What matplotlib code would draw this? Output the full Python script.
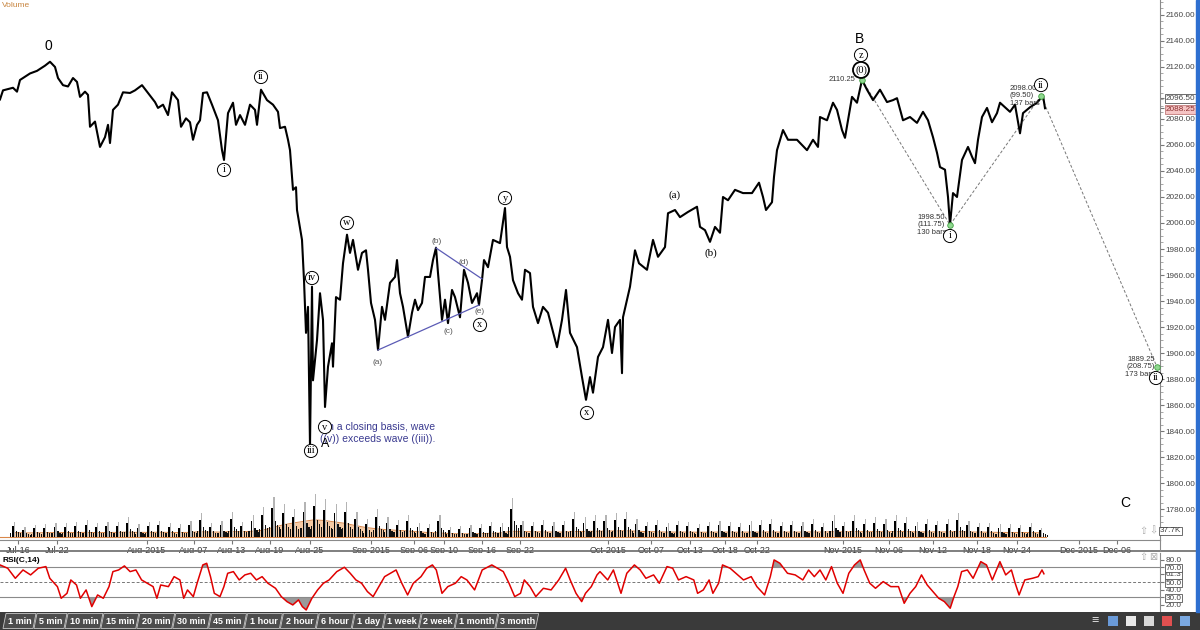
import numpy as np
import matplotlib.pyplot as plt
from matplotlib.patches import Rectangle, Polygon
from matplotlib.lines import Line2D

plt.rcParams['font.family'] = ['Liberation Sans', 'DejaVu Sans']

# -----------------------------
# data (bar position, value)
# -----------------------------
price_path = [
    (0, 2095), (3, 2102), (13, 2104), (17, 2101), (20, 2110), (30, 2115), (37, 2117),
    (45, 2121), (50, 2124), (55, 2120), (58, 2111.5), (63, 2106), (68, 2105), (73, 2111.5),
    (77, 2108.5), (80, 2097), (85, 2101), (88, 2098.5), (90, 2074), (95, 2078), (100, 2058.5),
    (105, 2066), (108, 2075.5), (110, 2061.5), (113, 2087), (118, 2091), (123, 2100.5),
    (130, 2100), (135, 2102), (142, 2106), (148, 2100), (155, 2093), (158, 2088.5),
    (163, 2091), (168, 2083), (172, 2100.5), (178, 2094.5), (181, 2074), (186, 2080.5),
    (190, 2077.5), (193, 2064), (197, 2075.5), (200, 2079), (203, 2100), (207, 2100.5),
    (212, 2091), (218, 2079), (222, 2056), (224, 2048.5), (228, 2084.5), (233, 2092.5),
    (236, 2075.5), (240, 2083), (245, 2075.5), (250, 2091), (255, 2087), (257, 2075.5),
    (261, 2102.5), (267, 2094.5), (273, 2091), (278, 2085.5), (280, 2073), (285, 2074),
    (288, 2064), (290, 2056), (293, 2025.5), (296, 2027.5), (297, 2010), (302, 1987),
    (304, 1956), (306, 1915.5), (308, 1935.5), (310, 1829), (312, 1951), (313, 1879),
    (317, 1910), (320, 1946), (323, 1925.5), (325, 1858.5), (328, 1889.5), (332, 1907.5),
    (333, 1889.5), (336, 1943), (340, 1941), (343, 1969), (347, 1991), (350, 1977),
    (353, 1987), (358, 1964), (362, 1977), (366, 1979), (368, 1964), (371, 1938.5),
    (375, 1925.5), (378, 1902.5), (382, 1935.5), (385, 1925.5), (390, 1954), (395, 1958.5),
    (397, 1971.5), (400, 1946), (403, 1935.5), (408, 1912.5), (412, 1931), (415, 1941),
    (418, 1933), (422, 1938.5), (425, 1958.5), (430, 1958.5), (433, 1971.5), (436, 1981),
    (438, 1961.5), (442, 1925.5), (445, 1941), (448, 1923), (452, 1948.5), (455, 1943),
    (460, 1927.5), (464, 1964), (468, 1954), (472, 1938.5), (477, 1946), (479, 1937),
    (482, 1956), (484, 1971.5), (488, 1966), (493, 1987), (500, 1984.5), (505, 2011.5),
    (507, 1981.5), (510, 1974), (513, 1956), (518, 1946), (522, 1941), (525, 1964),
    (530, 1961.5), (533, 1935.5), (538, 1923), (543, 1935.5), (548, 1931), (557, 1904.5),
    (562, 1925.5), (566, 1948.5), (570, 1915.5), (577, 1904.5), (582, 1881.5), (586, 1864),
    (590, 1881.5), (593, 1869.5), (598, 1897), (603, 1904.5), (608, 1925.5), (612, 1900),
    (615, 1920), (620, 1925.5), (622, 1884.5), (623, 1927.5), (627, 1941), (630, 1951),
    (635, 1979), (639, 1969), (647, 1964), (653, 1987), (658, 1974), (665, 1981.5),
    (668, 2007.5), (675, 2010), (680, 2004.5), (688, 2008.5), (697, 2012.5), (700, 1997),
    (705, 1994.5), (710, 1985.5), (715, 1997), (720, 1992.5), (723, 2020), (728, 2017.5),
    (735, 2025.5), (743, 2023), (752, 2023), (759, 2031), (763, 2020), (766, 2010),
    (772, 2016), (774, 2035.5), (777, 2056), (783, 2071.5), (788, 2064), (797, 2064),
    (807, 2056), (813, 2064), (818, 2058.5), (820, 2081.5), (827, 2079), (833, 2092.5),
    (837, 2087), (842, 2071.5), (845, 2065.5), (852, 2097), (857, 2092.5), (862, 2110),
    (867, 2102.5), (873, 2094.5), (880, 2102.5), (887, 2093), (893, 2094.5), (897, 2096),
    (903, 2079), (910, 2081.5), (917, 2077), (923, 2085.5), (928, 2079), (933, 2066),
    (937, 2054), (940, 2043), (945, 2041), (948, 2020), (950, 1998.5), (953, 2023),
    (957, 2020), (962, 2048.5), (968, 2058.5), (972, 2051), (975, 2046), (978, 2064),
    (982, 2081.5), (987, 2088.5), (992, 2077.5), (997, 2084.5), (1000, 2092.5),
    (1005, 2089), (1010, 2085.5), (1015, 2091), (1020, 2069), (1023, 2084.5),
    (1030, 2089), (1037, 2092.5), (1043, 2098), (1045, 2088.25),
]

rsi_path = [
    (0, 73.1), (7.7, 68.7), (15.3, 55.3), (23, 66.4), (30.6, 59.8), (38.3, 68.7),
    (45.9, 70.9), (49.8, 55.3), (57.4, 44.2), (61.2, 28.7), (67, 35.3), (70.8, 53.1),
    (76.5, 46.4), (80.4, 28.7), (86.1, 39.8), (91.8, 17.6), (97.6, 33.1), (103.3, 28.7),
    (109, 44.2), (112.9, 64.2), (118.6, 66.4), (124.4, 71.8), (130.1, 64.2), (135.9, 66.4),
    (141.6, 53.1), (147.3, 48.7), (153.1, 44.2), (156.9, 28.7), (160.7, 46.4), (168.4, 44.2),
    (174.1, 57.5), (179.9, 53.1), (183.7, 28.7), (187.5, 39.8), (193.3, 30.9), (197.1, 48.7),
    (202.8, 73.1), (206.7, 75.3), (210.5, 57.5), (214.3, 35.3), (220, 30.9), (223.9, 44.2),
    (227.7, 62), (233.4, 64.2), (239.2, 53.1), (244.9, 59.8), (250.7, 62), (256.4, 53.1),
    (262.1, 57.5), (267.9, 48.7), (275.5, 42), (281.3, 30.9), (287, 24.2), (292.8, 19.8),
    (298.5, 26.5), (302.3, 17.6), (306.2, 13.1), (311.9, 28.7), (317.6, 39.8), (323.4, 48.7),
    (329.1, 53.1), (336.8, 64.2), (344.4, 70), (350.2, 62), (355.9, 53.1), (361.6, 48.7),
    (367.4, 37.6), (373.1, 30.9), (378.9, 44.2), (384.6, 57.5), (390.4, 62), (396.1, 66.4),
    (401.8, 48.7), (407.6, 33.1), (413.3, 48.7), (421, 57.5), (426.7, 68.7), (432.4, 73.1),
    (436.3, 66.4), (442, 35.3), (447.8, 44.2), (455.4, 48.7), (461.2, 57.5), (466.9, 53.1),
    (474.6, 39.8), (482.2, 66.4), (491.8, 73.1), (497.5, 68.7), (503.3, 64.2), (509, 48.7),
    (514.7, 30.9), (520.5, 35.3), (524.3, 53.1), (530, 44.2), (535.8, 30.9), (543.4, 42),
    (551.1, 39.8), (558.7, 53.1), (565.6, 68.7), (570.2, 53.1), (576, 35.3), (581.7, 24.2),
    (585.5, 35.3), (591.3, 44.2), (597, 59.8),
    (600, 64.2), (607.7, 53.1), (613.4, 66.4), (621, 35.3), (626.8, 62), (634.4, 73.1),
    (640.2, 66.4), (645.9, 55.3), (653.6, 59.8), (659.3, 48.7), (667, 70.9), (672.7, 68.7),
    (678.5, 53.1), (686.1, 57.5), (693.8, 53.1), (697.6, 35.3), (703.3, 39.8), (709.1, 53.1),
    (712.9, 35.3), (718.6, 48.7), (722.5, 73.1), (730.1, 68.7), (735.9, 62), (743.5, 53.1),
    (751.2, 57.5), (756.9, 44.2), (764.6, 33.1), (770.3, 57.5), (774.1, 79.8), (779.9, 75.3),
    (787.5, 62), (795.2, 59.8), (802.8, 53.1), (808.6, 66.4), (814.3, 57.5), (820, 66.4),
    (825.8, 53.1), (831.5, 70.9), (837.3, 48.7), (843, 35.3), (848.8, 62), (854.5, 73.1),
    (860.2, 79.8), (864.1, 66.4), (869.8, 48.7), (875.5, 42), (883.2, 50.9), (890.8, 44.2),
    (898.5, 44.2), (904.2, 22), (910, 35.3), (915.7, 44.2), (921.5, 59.8), (927.2, 46.4),
    (932.9, 37.6), (938.7, 28.7), (944.4, 24.2), (950.2, 15.4), (954, 30.9), (957.8, 44.2),
    (961.6, 64.2), (967.4, 66.4), (973.1, 55.3), (980.8, 77.5), (986.5, 73.1), (992.3, 53.1),
    (999.9, 77.5), (1005.7, 59.8), (1011.4, 66.4), (1015.2, 48.7), (1019.1, 33.1),
    (1024.8, 53.1), (1032.4, 55.3), (1038.2, 57.5), (1042, 66.4), (1043.9, 61.3),
]

# daily volume peaks and moving average (K contracts)
vol_peak = [95, 63, 76, 82, 88, 88, 95, 107, 88, 95, 95, 126, 82, 95, 101, 88, 82, 101,
            151, 88, 101, 158, 95, 139, 189, 252, 208, 176, 220, 271, 239, 208, 220, 158,
            113, 176, 126, 107, 139, 88, 82, 139, 63, 69, 76, 82, 95, 88, 246, 101, 95, 107,
            95, 101, 158, 126, 139, 139, 151, 158, 113, 95, 107, 88, 101, 95, 82, 95, 101,
            95, 88, 101, 107, 113, 95, 101, 95, 113, 88, 139, 95, 139, 113, 126, 113, 139,
            126, 95, 113, 101, 113, 151, 101, 88, 88, 82, 82, 76, 88, 57]
vol_avg = [28, 26, 26, 27, 28, 28, 28, 29, 28, 28, 29, 31, 29, 29, 30, 29, 28, 29,
           33, 31, 31, 34, 33, 36, 42, 58, 76, 88, 98, 108, 104, 95, 86, 72, 60, 52, 46,
           42, 38, 33, 28, 26, 22, 20, 20, 21, 23, 25, 36, 35, 33, 32, 31, 31, 34, 35, 36,
           37, 38, 39, 37, 34, 33, 31, 31, 31, 30, 30, 31, 31, 30, 31, 31, 32, 31, 31, 31,
           32, 31, 33, 32, 34, 33, 34, 33, 34, 34, 32, 32, 32, 32, 34, 32, 31, 30, 29, 28,
           28, 28, 26]

# Elliott-wave projection: B top, wave i low, wave ii high, target
proj_x = [862, 950, 1041, 1157]
proj_p = [2110.25, 1998.50, 2098.00, 1889.25]

# contracting triangle boundaries
tri_low_x, tri_low_p = [378, 479], [1902.3, 1936.9]
tri_up_x, tri_up_p = [436, 482], [1980.8, 1957.0]

date_pos = [18, 57, 147, 194, 232, 270, 310, 371, 414, 444, 482, 520, 608, 651, 690,
            725, 757, 843, 889, 933, 977, 1017, 1079, 1117]
date_lbl = ['Jul-16', 'Jul-22', 'Aug-2015', 'Aug-07', 'Aug-13', 'Aug-19', 'Aug-25',
            'Sep-2015', 'Sep-06', 'Sep-10', 'Sep-16', 'Sep-22', 'Oct-2015', 'Oct-07',
            'Oct-13', 'Oct-18', 'Oct-22', 'Nov-2015', 'Nov-06', 'Nov-12', 'Nov-18',
            'Nov-24', 'Dec-2015', 'Dec-06']

tabs = ['1 min', '5 min', '10 min', '15 min', '20 min', '30 min', '45 min', '1 hour',
        '2 hour', '6 hour', '1 day', '1 week', '2 week', '1 month', '3 month']

W, H = 1200, 630
fig = plt.figure(figsize=(12, 6.3), dpi=100)
fig.patch.set_facecolor('white')

# -----------------------------
# price panel (with volume overlay)
# -----------------------------
ax = fig.add_axes([0, 90 / H, 1160 / W, 540 / H])
axv = ax.twinx()
ax.set_xlim(0, 1160)
ax.set_ylim(1756.2, 2171.5)
for s in ['top', 'left']:
    ax.spines[s].set_visible(False)
ax.spines['right'].set_color('#8a8a8a')
ax.spines['bottom'].set_color('#8a8a8a')

px, pp = zip(*price_path)
ax.plot(px, pp, color='black', lw=1.5, zorder=4)

ticks = [v for v in range(1780, 2161, 20) if v != 2100]
ax.yaxis.tick_right()
ax.set_yticks(ticks + [2096.5, 2088.25])
ax.set_yticklabels([f'{v:.2f}' for v in ticks + [2096.5, 2088.25]])
ax.set_yticks(np.arange(1760, 2171, 5), minor=True)
ax.tick_params(axis='y', which='major', labelsize=5.9, labelcolor='#444', length=3,
               color='#777', pad=1, left=False, labelleft=False, right=True,
               labelright=True)
ax.tick_params(axis='y', which='minor', length=2, color='#999', left=False, right=True)
ylabels = ax.get_yticklabels()
ylabels[-2].set_bbox(dict(boxstyle='square,pad=0.1', fc='white', ec='#555', lw=0.6))
ylabels[-1].set_bbox(dict(boxstyle='square,pad=0.1', fc='#f5c4c4', ec='#c07a7a', lw=0.6))
ylabels[-1].set_color('#8a2f2f')

ax.set_xticks(date_pos)
ax.set_xticklabels(date_lbl)
ax.tick_params(axis='x', labelsize=6.5, labelcolor='#333', length=3, color='#777', pad=1)

axv.set_ylim(-19, 3383)
axv.set_axis_off()
day_x = np.linspace(13, 1040, len(vol_peak))
vp = np.array(vol_peak)
axv.fill_between(day_x, 0, vol_avg, color='#f6cba5', zorder=1, lw=0)
axv.plot(day_x, vol_avg, color='#d9874a', lw=0.7, zorder=2)
axv.plot([0, 1046], [0, 0], color='#d9874a', lw=0.8, zorder=2)
axv.bar(day_x + 1.6, vp, width=1.2, color='#b4b4b4', zorder=2)
axv.bar(day_x, vp * 0.72, width=1.8, color='black', zorder=3)
for k, f in zip([3.5, 5.5, 7.5, -2.5], [0.4, 0.3, 0.24, 0.25]):
    axv.bar(day_x + k, vp * f, width=1.2, color='#111', zorder=3)
axv.text(1.0, 37.7, '37.7K', transform=axv.get_yaxis_transform(), fontsize=5.9,
         color='#444', va='center', ha='left',
         bbox=dict(boxstyle='square,pad=0.1', fc='white', ec='#555', lw=0.6), clip_on=False)
axv.text(1143, 40, '\u21e7', fontsize=7, color='#aaa', ha='center', va='center')
axv.text(1153, 40, '\u21e9', fontsize=7, color='#aaa', ha='center', va='center')

# projection and triangle
ax.plot(proj_x, proj_p, color='#777', lw=0.7, ls=(0, (3, 2)), zorder=3)
ax.scatter(proj_x, proj_p, s=16, c='#8fd88f', edgecolors='#3f9f3f', linewidths=0.6,
           zorder=7, clip_on=False)
ax.plot(tri_low_x, tri_low_p, color='#5b5bb5', lw=0.9, zorder=5)
ax.plot(tri_up_x, tri_up_p, color='#5b5bb5', lw=0.9, zorder=5)


def circled(x, y, s, size=7.5, lw=0.7):
    ax.text(x, y, s, ha='center', va='center', fontsize=size, family='Liberation Serif',
            bbox=dict(boxstyle='circle,pad=0.2', fc='white', ec='black', lw=lw),
            zorder=8, clip_on=False)


for x, y, s in [(261, 2112.3, 'ii'), (224, 2040.8, 'i'), (312, 1957.7, 'iv'),
                (311, 1824.7, 'iii'), (347, 2000, 'w'), (505, 2019.2, 'y'),
                (480, 1921.6, 'x'), (587, 1853.9, 'x'), (861, 2129.2, 'z'),
                (950, 1990, 'i'), (1041, 2106.1, 'ii'), (1156, 1880.8, 'ii')]:
    circled(x, y, s)
circled(861, 2117.7, '(0)', size=7.5, lw=1.3)

# grey triangle sub-wave labels
for x, y, s in [(378, 1892.4, '(a)'), (437, 1985.4, '(b)'), (448, 1916.2, '(c)'),
                (464, 1970, '(d)'), (480, 1931.6, '(e)')]:
    ax.text(x, y, s, fontsize=6, color='#555', ha='center', va='center', zorder=6)
for x, y, s in [(675, 2021.5, '(a)'), (711, 1977, '(b)')]:
    ax.text(x, y, s, fontsize=8, family='Liberation Serif', ha='center', va='center')

ax.text(48, 2136.1, '0', fontsize=10, ha='center', va='center')
ax.text(860, 2141.5, 'B', fontsize=10, ha='center', va='center')
ax.text(1125, 1784.7, 'C', fontsize=10, ha='center', va='center')
ax.text(855, 2110.2, '2110.25', fontsize=5.5, color='#333', ha='right', va='center')
ax.text(917, 1998.5, '1998.50\n(111.75)\n130 bars', fontsize=5.5, color='#333',
        ha='left', va='center', linespacing=1.15, zorder=6)
ax.text(1010, 2097.7, '2098.00\n(99.50)\n137 bars', fontsize=5.5, color='#333',
        ha='left', va='center', linespacing=1.15, zorder=6)
ax.text(1155, 1889.3, '1889.25\n(208.75)\n173 bars', fontsize=5.5, color='#333',
        ha='right', va='center', linespacing=1.15, zorder=6)

ax.text(320, 1843.1, 'On a closing basis, wave', fontsize=7.5, color='#3a3a90',
        ha='left', va='center', zorder=6)
ax.text(320, 1833.9, '((v)) exceeds wave ((iii)).', fontsize=7.5, color='#3a3a90',
        ha='left', va='center', zorder=6)
circled(325, 1843.1, 'v')
ax.text(325, 1830, 'A', fontsize=9, ha='center', va='center', zorder=9)

ax.text(0.002, 0.997, 'Volume', transform=ax.transAxes, fontsize=6, color='#c8853f',
        ha='left', va='top')

# -----------------------------
# RSI panel
# -----------------------------
axr = fig.add_axes([0, 18 / H, 1160 / W, 59 / H])
axr.set_xlim(0, 1160)
axr.set_ylim(10.4, 89)
for s in ['top', 'left', 'bottom']:
    axr.spines[s].set_visible(False)
axr.spines['right'].set_color('#8a8a8a')
axr.set_xticks([])
rx, rv = zip(*rsi_path)
rx, rv = np.array(rx), np.array(rv)
axr.fill_between(rx, 70, rv, where=rv > 70, interpolate=True, color='#9a9a9a', lw=0)
axr.fill_between(rx, 30, rv, where=rv < 30, interpolate=True, color='#9a9a9a', lw=0)
axr.axhline(70, color='#8a8a8a', lw=0.8)
axr.axhline(30, color='#8a8a8a', lw=0.8)
axr.axhline(50, color='#777', lw=0.7, ls=(0, (3, 2)))
axr.plot(rx, rv, color='#e00000', lw=1.1, zorder=4)
rt = [20, 30, 40, 50, 61.3, 70, 80]
axr.yaxis.tick_right()
axr.set_yticks(rt)
axr.set_yticklabels([f'{v:.1f}' for v in rt])
axr.tick_params(axis='y', labelsize=5.9, labelcolor='#444', length=3, color='#777', pad=1)
for lbl, v in zip(axr.get_yticklabels(), rt):
    if v in (30, 50, 61.3, 70):
        lbl.set_bbox(dict(boxstyle='square,pad=0.06', fc='white', ec='#555', lw=0.6))
axr.text(0.002, 0.93, 'RSI(C,14)', transform=axr.transAxes, fontsize=6,
         fontweight='bold', ha='left', va='top')
axr.text(1143, 84, '\u21e7', fontsize=7, color='#aaa', ha='center', va='center')
axr.text(1153, 84, '\u22a0', fontsize=7, color='#aaa', ha='center', va='center')

# panel separators
fig.add_artist(Line2D([0, 1], [1 - 551 / H, 1 - 551 / H], color='#6a6a6a', lw=1.2))
fig.add_artist(Line2D([1160 / W, 1160 / W], [1 - 551 / H, 1 - 540 / H],
                      color='#8a8a8a', lw=0.8))

# -----------------------------
# toolbar and right edge
# -----------------------------
axt = fig.add_axes([0, 0, 1, 18 / H])
axt.set_xlim(0, W)
axt.set_ylim(0, 18)
axt.set_facecolor('#3a3a3a')
axt.set_xticks([])
axt.set_yticks([])
for s in axt.spines.values():
    s.set_visible(False)
x0 = 3
for t in tabs:
    w = 5.5 + 4.9 * len(t)
    axt.add_patch(Polygon([(x0, 1.5), (x0 + w, 1.5), (x0 + w + 3, 16.5), (x0 + 3, 16.5)],
                          closed=True, fc='#4d4d4d', ec='#c8c8c8', lw=0.6))
    axt.text(x0 + w / 2 + 1.5, 9, t, color='white', fontsize=6.5, fontweight='bold',
             ha='center', va='center')
    x0 += w + 1
axt.text(1095, 9, '\u2261', color='#ddd', fontsize=9, ha='center', va='center')
for xi, c in zip([1113, 1131, 1149, 1167, 1185], ['#6a9ad8', '#e8e8e8', '#d8d8d8',
                                                   '#e05050', '#7aa8e0']):
    axt.add_patch(Rectangle((xi - 5, 4), 10, 10, fc=c, ec='none'))

fig.add_artist(Rectangle((1196 / W, 18 / H), 4 / W, 612 / H, transform=fig.transFigure,
                         color='#2e6fd0', zorder=10))

fig.savefig('out.png', dpi=100)
